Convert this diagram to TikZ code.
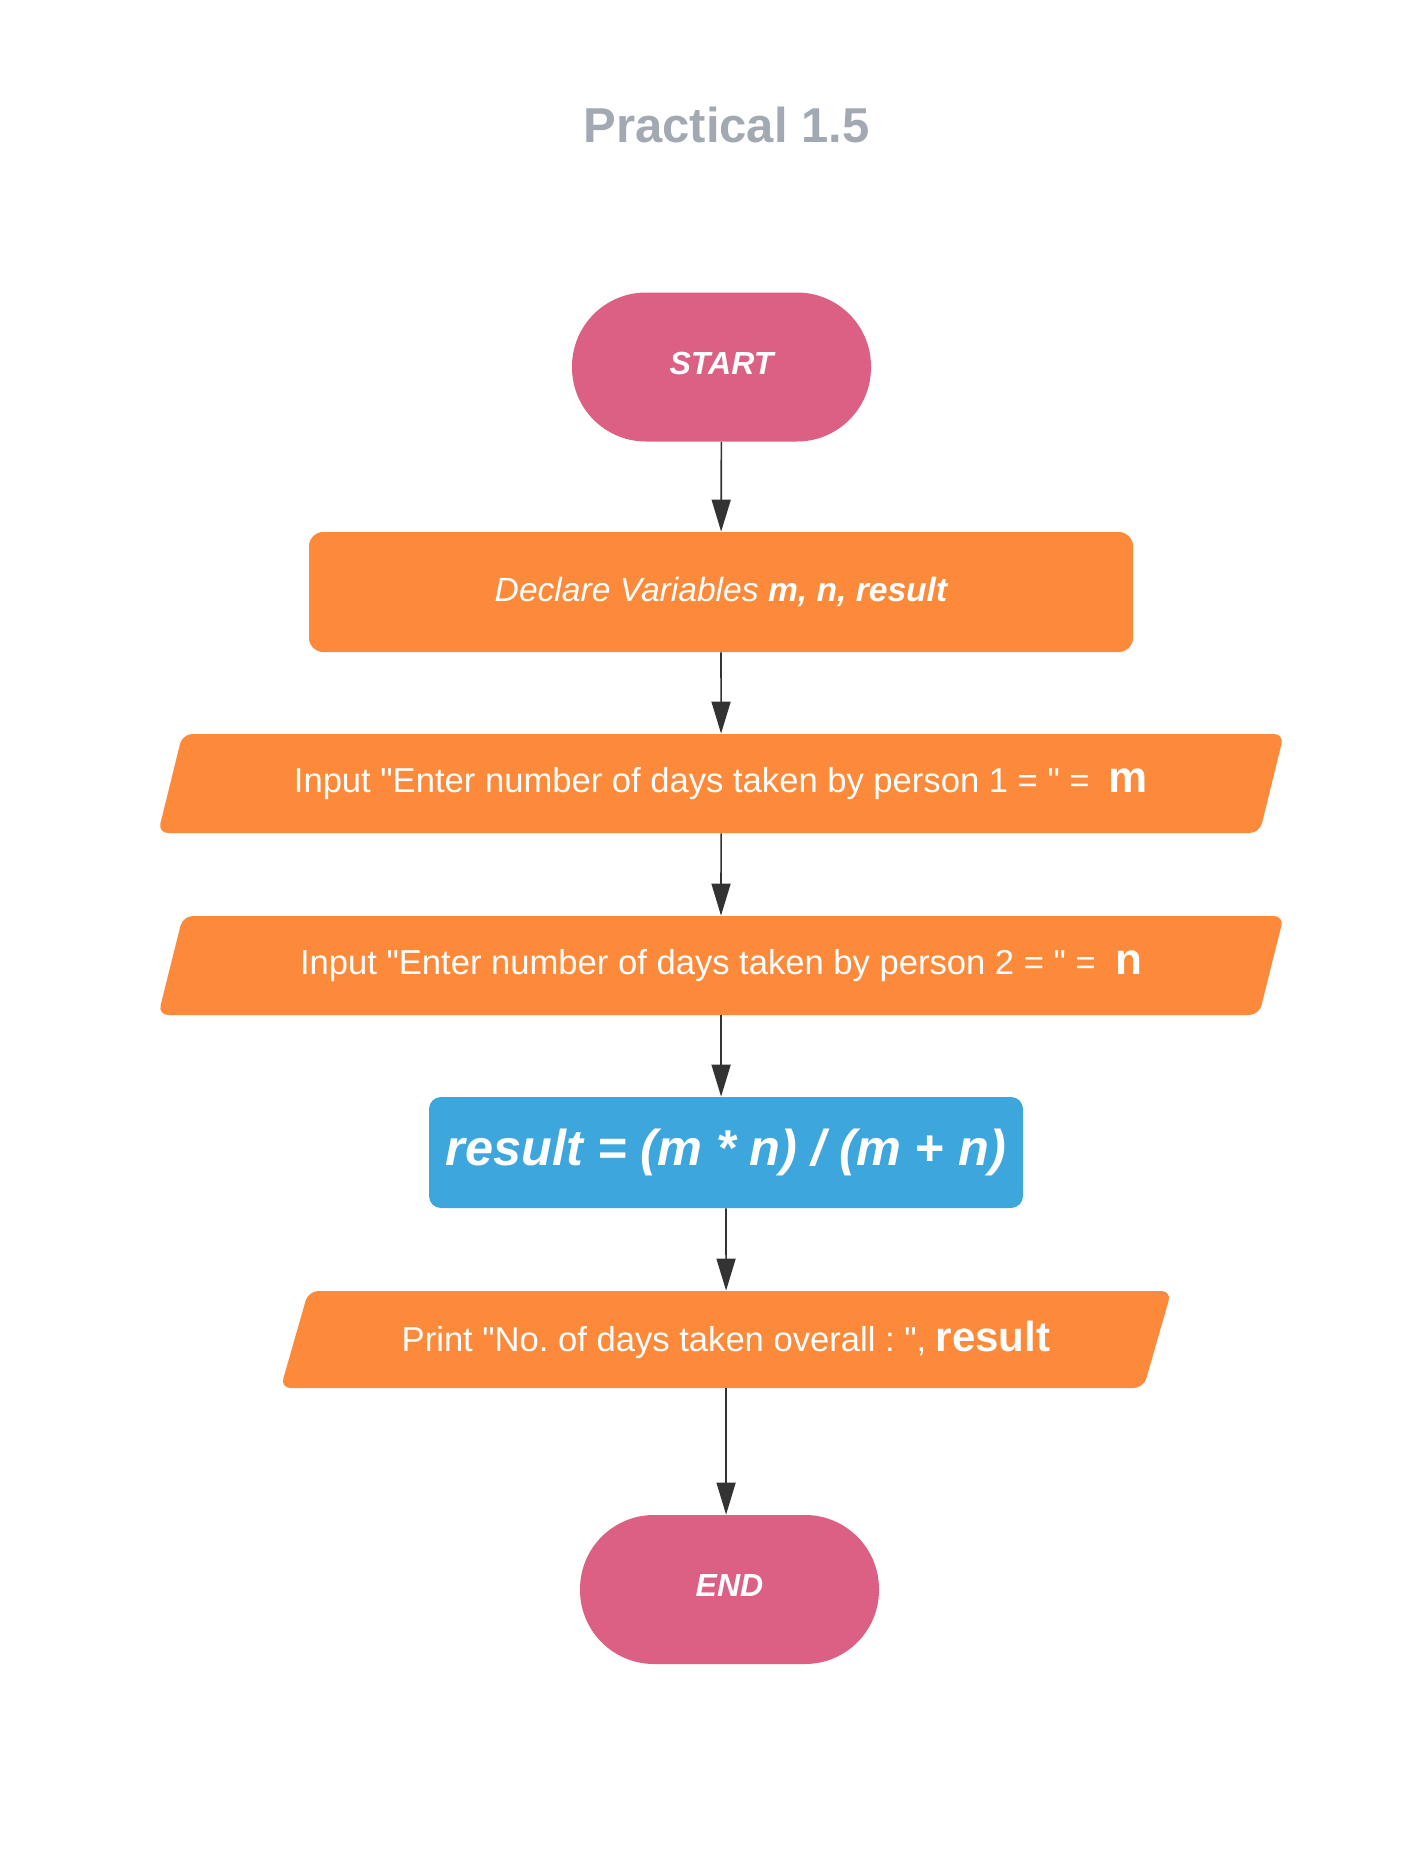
\documentclass[tikz,border=0pt]{standalone}
\usepackage{fontspec}
\setmainfont[Ligatures=TeXOff]{Liberation Sans}
\usetikzlibrary{shapes.geometric,arrows.meta}
\definecolor{termpink}{HTML}{DC5F84}
\definecolor{procorange}{HTML}{FD8A3A}
\definecolor{calcblue}{HTML}{3DA6DC}
\definecolor{titlegray}{HTML}{A3A9B3}
\definecolor{arrowgray}{HTML}{333333}
\frenchspacing
\begin{document}
\begin{tikzpicture}[x=0.5pt,y=-0.5pt,
	terminal/.style={fill=termpink, text=white, rounded corners=37pt, minimum width=149.5pt, minimum height=74.5pt, text depth=4pt, font=\fontsize{16}{19}\selectfont\bfseries\itshape},
	process/.style={fill=procorange, text=white, rounded corners=7pt, minimum width=412pt, minimum height=60pt, font=\fontsize{16.8}{20}\selectfont\itshape},
	io/.style={trapezium, trapezium left angle=67, trapezium right angle=113, trapezium stretches=true, fill=procorange, text=white, rounded corners=5pt, minimum height=49.5pt, inner xsep=0pt, font=\fontsize{17.3}{20}\selectfont},
	calc/.style={fill=calcblue, text=white, rounded corners=6pt, minimum width=297pt, minimum height=55.5pt, font=\fontsize{25.2}{30}\selectfont\bfseries\itshape},
	flow/.style={-{Triangle[length=16pt,width=9.5pt]}, draw=arrowgray, line width=0.8pt}
]
	\useasboundingbox (0,0) rectangle (1427,1849);
	\node[text=titlegray, font=\fontsize{24.5}{29}\selectfont\bfseries, anchor=base] (title) at (726.5,142) {Practical 1.5};
	\node[terminal] (start) at (721.5,367) {START};
	\node[process] (decl) at (721,592) {Declare Variables \textbf{m, n, result}};
	\node[io, minimum width=566pt] (in1) at (721,783.5) {Input "Enter number of days taken by person 1 = " =\ \ {\fontsize{22}{26}\selectfont\bfseries m}};
	\node[io, minimum width=566pt] (in2) at (721,965.5) {Input "Enter number of days taken by person 2 = " =\ \ {\fontsize{22}{26}\selectfont\bfseries n}};
	\node[calc] (res) at (726,1152.5) {result = (m * n) / (m + n)};
	\node[io, minimum width=446.5pt, minimum height=48.5pt] (prt) at (726,1339.5) {Print "No. of days taken overall : ", {\fontsize{21}{25}\selectfont\bfseries result}};
	\node[terminal] (end) at (729.5,1589.5) {END};
	
	\path (start) edge[flow] (decl)
	(decl) edge[flow] (in1)
	(in1) edge[flow] (in2)
	(in2.south) edge[flow] (in2.south |- res.north)
	(res.south) edge[flow] (prt.north)
	(prt.south) edge[flow] (prt.south |- end.north);
\end{tikzpicture}
\end{document}
